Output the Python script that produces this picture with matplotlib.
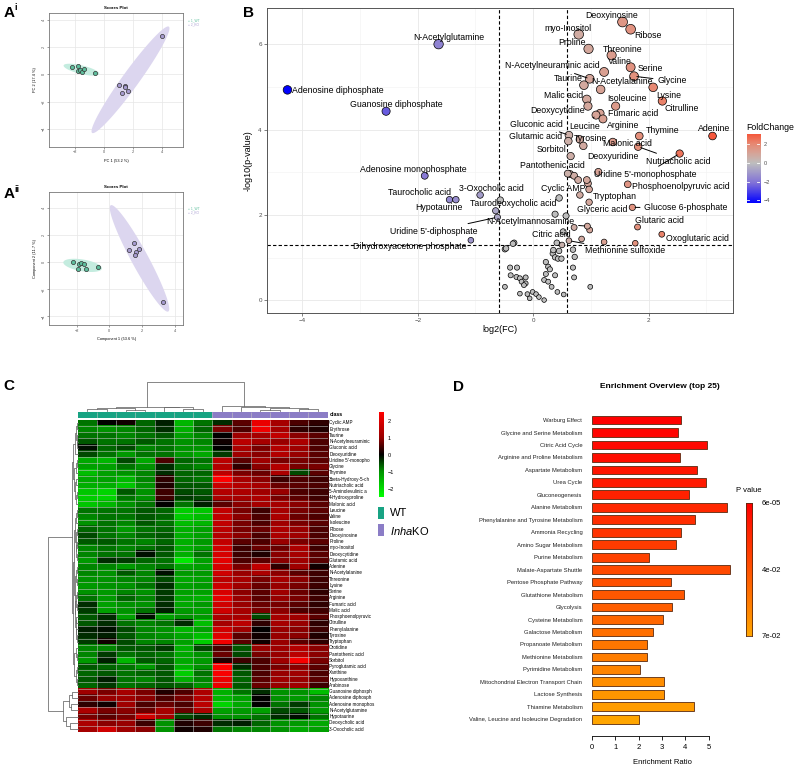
import numpy as np
import matplotlib
matplotlib.use('Agg')
import matplotlib.pyplot as plt
from matplotlib.colors import LinearSegmentedColormap, Normalize

plt.rcParams['font.family'] = ['Liberation Sans', 'DejaVu Sans']
plt.rcParams['mathtext.fontset'] = 'custom'
plt.rcParams['mathtext.it'] = 'Liberation Sans:italic'
plt.rcParams['mathtext.rm'] = 'Liberation Sans'

# ---------------- data ----------------
# A: score plots (PCA and PLS-DA)
pca_wt_x = [-2.20, -1.83, -1.83, -1.67, -1.51, -1.37, -0.60]
pca_wt_y = [0.51, 0.61, 0.26, 0.32, 0.17, 0.41, 0.12]
pca_ko_x = [1.06, 1.48, 1.48, 1.27, 1.67, 4.05]
pca_ko_y = [-0.81, -0.88, -0.96, -1.35, -1.25, 2.84]
pls_wt_x = [-2.20, -1.87, -1.73, -1.55, -1.92, -1.45, -0.69]
pls_wt_y = [0.04, -0.13, -0.07, -0.15, -0.47, -0.47, -0.33]
pls_ko_x = [1.53, 1.22, 1.63, 1.84, 1.57, 3.31]
pls_ko_y = [1.45, 0.91, 0.79, 1.01, 0.54, -2.94]

# B: volcano plot, labelled metabolites
volc_names = ['Adenosine diphosphate', 'N-Acetylglutamine', 'Guanosine diphosphate',
              'Adenosine monophosphate', 'Taurocholic acid', 'Hypotaurine', '3-Oxocholic acid',
              'Taurodeoxycholic acid', "Uridine 5'-diphosphate", 'Dihydroxyacetone phosphate',
              'N-Acetylmannosamine', 'Deoxyinosine', 'Ribose', 'myo-Inositol', 'Proline',
              'Threonine', 'Valine', 'N-Acetylneuraminic acid', 'Serine', 'Glycine', 'Taurine',
              'N-Acetylalanine', 'Lysine', 'Citrulline', 'Malic acid', 'Isoleucine',
              'Deoxycytidine', 'Fumaric acid', 'Leucine', 'Arginine', 'Gluconic acid', 'Thymine',
              'Adenine', 'Glutamic acid', 'Tyrosine', 'Malonic acid', 'Sorbitol', 'Deoxyuridine',
              'Nutriacholic acid', 'Pantothenic acid', "Uridine 5'-monophosphate", 'Cyclic AMP',
              'Phosphoenolpyruvic acid', 'Tryptophan', 'Glyceric acid', 'Glucose 6-phosphate',
              'Glutaric acid', 'Oxoglutaric acid', 'Citric acid', 'Methionine sulfoxide']
volc_fc = [-4.26, -1.64, -2.55, -1.88, -1.45, -1.34, -0.92, -0.65, -0.62, -1.08,
           0.94, 1.55, 1.69, 0.79, 0.96, 1.36, 1.23, 0.98, 1.69, 1.75, 0.88,
           1.17, 2.08, 2.24, 0.93, 1.43, 0.95, 1.16, 1.09, 1.21, 0.62, 1.84,
           3.11, 0.61, 0.81, 1.38, 0.65, 0.87, 1.82, 0.60, 2.54, 0.93,
           1.64, 0.97, 0.97, 1.72, 1.81, 2.23, 0.50, 0.62]
volc_p = [4.93, 6.00, 4.43, 2.92, 2.36, 2.36, 2.47, 2.10, 1.95, 1.41,
          1.74, 6.52, 6.35, 6.23, 5.89, 5.74, 5.35, 5.19, 5.46, 5.25, 5.04,
          4.94, 4.99, 4.67, 4.71, 4.55, 4.55, 4.38, 4.34, 4.25, 3.87, 3.85,
          3.85, 3.73, 3.77, 3.71, 3.38, 3.62, 3.60, 2.97, 3.44, 2.82,
          2.72, 2.60, 2.30, 2.18, 1.72, 1.55, 1.30, 1.40]
# unlabelled significant
sig_fc = [0.71, 0.98, 0.84, 1.23, 1.77, 0.64, 0.71, 0.78, 1.13, 0.95, 0.81]
sig_p = [1.71, 1.65, 1.44, 1.37, 1.34, 2.96, 2.92, 2.82, 3.01, 2.74, 2.47]
# not significant
ns_fc = [-0.57, 0.45, 0.38, 0.57, 0.52, 0.41, -0.33, -0.49, -0.40, -0.28, -0.39, -0.29,
         -0.23, -0.13, -0.20, -0.13, -0.16, -0.49, -0.23, -0.10, -0.01, 0.05, 0.10, 0.19,
         -0.06, 0.22, 0.34, 0.38, 0.43, 0.49, 0.26, 0.29, 0.38, 0.22, 0.19, 0.26, 0.32,
         0.42, 0.53, 0.69, 0.72, 0.69, 0.71, 0.99, 0.45, 0.35, -0.47, -0.35]
ns_p = [2.35, 2.40, 2.02, 1.98, 1.61, 1.35, 1.35, 1.20, 0.77, 0.77, 0.59, 0.55,
        0.52, 0.54, 0.44, 0.40, 0.36, 0.32, 0.16, 0.15, 0.20, 0.15, 0.08, 0.01,
        0.05, 0.90, 1.10, 1.01, 0.98, 0.98, 0.79, 0.73, 0.59, 0.62, 0.48, 0.44, 0.32,
        0.20, 0.14, 1.19, 1.02, 0.77, 0.54, 0.32, 1.16, 1.18, 1.22, 1.33]

# C: heatmap (z-scores), 7 WT + 6 KO samples
heat_rows = ['Cyclic AMP', 'Erythrose', 'Taurine', 'N-Acetylneuraminic', 'Gluconic acid',
             'Deoxyuridine', "Uridine 5'-monopho", 'Glycine', 'Thymine', '3beta-Hydroxy-5-ch',
             'Nutriacholic acid', '5-Aminolevulinic a', '4-Hydroxyproline', 'Malonic acid',
             'Leucine', 'Valine', 'Isoleucine', 'Ribose', 'Deoxyinosine', 'Proline',
             'myo-Inositol', 'Deoxycytidine', 'Glutamic acid', 'Adenine', 'N-Acetylalanine',
             'Threonine', 'Lysine', 'Serine', 'Arginine', 'Fumaric acid', 'Malic acid',
             'Phosphoenolpyruvic', 'Citrulline', 'Phenylalanine', 'Tyrosine', 'Tryptophan',
             'Orotidine', 'Pantothenic acid', 'Sorbitol', 'Pyroglutamic acid', 'Xanthine',
             'Hypoxanthine', 'Arabinose', 'Guanosine diphosph', 'Adenosine diphosph',
             'Adenosine monophos', 'N-Acetylglutamine', 'Hypotaurine', 'Deoxycholic acid',
             '3-Oxocholic acid']
heat_vals = [
    [-0.8, 0.0, 0.1, -0.7, -0.2, -1.5, -0.8, -0.3, 0.6, 2.2, 1.2, 0.5, 0.3],
    [-0.9, -1.0, -0.9, -0.7, -0.3, -1.4, -0.7, 0.8, 0.5, 2.3, 1.2, 0.3, 0.2],
    [-0.8, -0.8, -0.9, -0.8, -0.6, -1.2, -0.9, 0.0, 1.1, 1.2, 1.6, 0.9, 0.6],
    [-0.6, -0.8, -0.8, -0.6, -0.8, -1.0, -0.9, 0.1, 1.5, 1.2, 1.0, 1.3, 0.5],
    [-0.1, -0.7, -0.5, -0.9, -0.8, -1.0, -1.0, 0.0, 1.3, 0.8, 1.4, 1.1, 0.5],
    [-0.5, -0.8, -1.1, -0.8, -0.8, -1.1, -1.3, -0.4, 1.1, 0.9, 1.4, 1.0, 0.6],
    [-1.3, -1.5, -0.5, -1.3, 0.5, -0.7, -0.8, 1.5, 0.6, 1.1, 0.8, 0.8, 0.6],
    [-1.2, -1.2, -0.8, -1.0, -0.3, -0.8, -0.9, 1.4, 0.3, 0.9, 1.4, 0.8, 0.8],
    [-1.6, -1.2, -1.0, -0.9, -0.3, -0.7, -0.7, 1.5, 0.8, 0.7, 1.3, -0.5, 0.6],
    [-1.3, -1.2, -1.5, -0.9, 0.3, -0.7, -0.8, 2.5, 1.2, 0.9, 0.4, 0.5, 0.4],
    [-1.4, -1.4, -1.7, -1.0, 0.2, -0.6, -0.6, 1.7, 1.4, 1.2, 0.7, 0.6, 0.5],
    [-1.7, -1.9, -0.6, -1.0, 0.4, -0.5, -0.6, 1.4, 1.3, 1.1, 1.0, 0.5, 0.4],
    [-1.8, -1.9, -0.8, -1.0, 0.4, -0.4, -0.5, 1.3, 1.2, 1.3, 0.8, 0.6, 0.4],
    [-1.7, -1.5, -1.0, -0.8, 0.0, -0.8, -0.2, 0.6, 0.9, 1.2, 1.2, 0.9, 0.6],
    [-0.8, -0.8, -0.8, -0.6, -0.7, -1.8, -1.7, 1.6, 0.8, 0.4, 1.2, 0.8, 0.6],
    [-0.9, -0.8, -0.8, -0.6, -0.7, -1.8, -1.6, 1.6, 0.9, 0.5, 1.3, 0.7, 0.5],
    [-1.0, -0.8, -0.9, -0.6, -0.8, -1.6, -1.5, 1.6, 0.8, 0.5, 1.1, 0.8, 0.6],
    [-0.7, -0.8, -1.1, -0.8, -0.7, -1.4, -1.2, 1.5, 0.8, 0.7, 1.3, 1.0, 0.5],
    [-0.5, -0.8, -0.9, -0.7, -0.6, -1.4, -1.2, 1.4, 0.9, 0.5, 1.3, 1.1, 0.5],
    [-0.6, -0.6, -0.8, -0.9, -0.7, -1.4, -1.1, 1.6, 0.6, 0.5, 1.0, 0.8, 0.6],
    [-0.9, -0.8, -0.9, -0.8, -0.6, -1.4, -1.2, 1.8, 0.4, 0.7, 0.7, 1.3, 0.4],
    [-0.9, -0.8, -0.8, -0.1, -0.6, -1.4, -0.8, 1.9, 0.4, 0.2, 0.9, 1.2, 0.6],
    [-1.1, -0.3, -0.4, -0.7, -0.8, -2.2, -1.2, 2.1, 0.5, 0.6, 0.9, 1.1, 0.6],
    [-0.9, -0.9, -1.1, -0.9, -0.8, -1.3, -1.2, 1.9, 0.8, 1.6, 0.3, 1.1, 0.1],
    [-0.9, -1.0, -0.6, -0.9, -0.1, -1.1, -1.1, 1.8, 1.0, 1.3, 0.9, 0.6, 0.4],
    [-1.0, -1.0, -0.9, -0.9, -0.5, -1.3, -1.2, 1.5, 1.2, 0.8, 1.2, 0.9, 0.4],
    [-1.1, -1.0, -1.0, -0.8, -0.3, -1.2, -1.1, 1.7, 1.1, 0.7, 1.0, 0.8, 0.4],
    [-1.0, -1.1, -0.9, -1.0, -0.4, -1.2, -1.2, 1.9, 0.9, 0.6, 1.1, 0.7, 0.3],
    [-0.8, -1.1, -0.7, -0.9, -0.4, -1.3, -1.4, 2.1, 1.0, 0.6, 1.0, 0.8, 0.4],
    [-0.3, -1.2, -1.0, -1.0, -0.3, -1.3, -1.1, 1.8, 1.0, 0.7, 0.8, 0.6, 0.3],
    [-0.4, -1.2, -1.0, -0.8, -0.2, -1.1, -1.2, 1.8, 1.2, 0.8, 0.9, 0.5, 0.4],
    [-0.6, -0.3, -1.2, -0.1, -1.2, -1.0, -1.1, 1.3, 1.2, -0.5, 1.2, 1.1, 0.6],
    [-0.6, -0.3, -0.8, -0.9, -0.8, -0.3, -1.6, 1.2, 1.5, 0.3, 1.2, 1.0, 0.3],
    [-0.2, -0.1, -0.5, -0.9, -1.0, -1.5, -1.2, 1.8, 1.1, 0.0, 1.0, 0.9, 0.4],
    [-0.3, -0.2, -0.6, -0.9, -1.0, -1.3, -1.6, 2.0, 0.6, 0.1, 1.0, 0.9, 0.2],
    [-0.4, 0.1, -0.5, -0.9, -0.9, -1.2, -1.8, 2.3, 0.6, 0.1, 1.0, 0.6, 0.3],
    [-0.9, -0.9, -0.6, -0.6, -0.4, -1.4, -0.5, 0.5, -0.6, 1.0, 1.1, 1.4, 0.9],
    [-0.9, -0.4, -0.8, -0.7, -0.8, -1.3, -1.0, 0.7, -0.5, 0.8, 1.0, 1.5, 0.9],
    [-1.1, -0.2, -1.5, -0.6, -0.7, -1.3, -1.1, 0.2, 0.4, 0.5, 1.1, 2.4, 0.8],
    [-0.6, -0.7, -0.8, -1.1, -0.6, -1.4, -1.0, 2.5, -0.3, 0.5, 0.8, 0.9, 0.6],
    [-0.7, -0.6, -0.8, -0.7, -0.6, -1.8, -0.8, 2.4, -0.6, 0.5, 1.0, 1.1, 0.5],
    [-0.6, -0.2, -0.8, -0.9, -0.6, -1.4, -0.9, 2.2, -0.7, 0.6, 1.1, 1.0, 0.6],
    [-0.7, -0.4, -0.8, -0.7, -0.6, -0.7, -1.0, 2.2, -0.6, 0.7, 1.0, 1.1, 0.4],
    [1.1, 0.8, 1.2, 0.8, 0.2, 0.5, 1.3, -1.4, -0.8, -0.3, -1.0, -1.0, -1.6],
    [0.7, 1.0, 1.1, 0.9, 0.5, 0.8, 1.4, -1.5, -1.2, 0.0, -1.0, -1.1, -0.9],
    [0.3, 0.1, 1.1, 0.5, 0.7, 0.5, 1.5, -1.9, -1.3, 0.0, -0.8, -0.4, -1.0],
    [1.3, 0.8, 0.9, 0.7, 1.2, 0.7, 1.3, -1.2, -1.1, -1.2, -0.5, -0.6, -1.1],
    [0.8, 0.6, 0.8, 1.8, 1.2, -0.5, -0.3, -1.0, -1.0, -0.8, -0.3, -0.1, -0.8],
    [1.3, 0.9, 1.0, 0.4, -1.0, 0.2, 0.4, -0.3, -0.2, -0.7, -1.0, -1.1, -1.3],
    [1.2, 1.8, 1.1, 0.9, -1.0, 0.1, 0.2, -0.8, -0.9, -0.9, -1.0, -1.3, -1.2],
]
sample_class = ['WT'] * 7 + ['KO'] * 6
# dendrogram trees: [height, left, right], leaves are indices
col_tree = [1.0,
            [0.15, [0.10, [0.06, 0, 1], [0.05, 2, 3]], [0.12, 4, [0.07, 5, 6]]],
            [0.17, 7, [0.12, 8, [0.09, [0.05, 9, 10], [0.06, 11, 12]]]]]
row_tree = [1.0,
            [0.20,
             [0.16,
              [0.10, [0.06, [0.03, 0, 1], [0.04, 2, [0.02, 3, 4]]], 5],
              [0.12, [0.07, [0.04, 6, 7], 8], [0.08, [0.05, 9, 10], [0.05, [0.03, 11, 12], 13]]]],
             [0.17,
              [0.14,
               [0.09, [0.05, [0.02, 14, 15], 16], [0.06, [0.04, 17, 18], [0.05, [0.03, 19, 20], [0.04, 21, 22]]]],
               [0.10, [0.06, [0.04, 23, 24], [0.035, 25, 26]],
                [0.08, [0.05, [0.03, 27, 28], [0.03, 29, 30]], [0.07, [0.05, 31, 32], [0.045, 33, [0.03, 34, 35]]]]]],
              [0.11, [0.06, 36, [0.04, 37, 38]], [0.07, [0.04, 39, 40], [0.035, 41, 42]]]]],
            [0.49, [0.30, [0.20, 43, 44], [0.22, 45, 46]], [0.40, 47, [0.25, 48, 49]]]]

# D: enrichment overview
pathways = ['Warburg Effect', 'Glycine and Serine Metabolism', 'Citric Acid Cycle',
            'Arginine and Proline Metabolism', 'Aspartate Metabolism', 'Urea Cycle',
            'Gluconeogenesis', 'Alanine Metabolism', 'Phenylalanine and Tyrosine Metabolism',
            'Ammonia Recycling', 'Amino Sugar Metabolism', 'Purine Metabolism',
            'Malate-Aspartate Shuttle', 'Pentose Phosphate Pathway', 'Glutathione Metabolism',
            'Glycolysis', 'Cysteine Metabolism', 'Galactose Metabolism', 'Propanoate Metabolism',
            'Methionine Metabolism', 'Pyrimidine Metabolism',
            'Mitochondrial Electron Transport Chain', 'Lactose Synthesis', 'Thiamine Metabolism',
            'Valine, Leucine and Isoleucine Degradation']
enrich_ratio = [3.80, 3.67, 4.91, 3.79, 4.50, 4.89, 4.17, 5.79, 4.40, 3.80, 3.59, 2.43, 5.90,
                3.39, 3.93, 3.43, 3.03, 2.60, 2.34, 2.34, 2.07, 3.10, 3.10, 4.37, 2.01]
enrich_p = [6e-05, 0.002, 0.004, 0.006, 0.009, 0.011, 0.014, 0.017, 0.019, 0.022, 0.025, 0.028,
            0.031, 0.034, 0.037, 0.040, 0.043, 0.047, 0.050, 0.053, 0.056, 0.060, 0.063, 0.066,
            0.070]

# ---------------- layout helpers ----------------
W, H = 797, 774
fig = plt.figure(figsize=(W / 100, H / 100), dpi=100)


def px_axes(l, t, r, b):
    return fig.add_axes([l / W, 1 - b / H, (r - l) / W, (b - t) / H])


def ftext(x, y, s, **kw):
    return fig.text(x / W, 1 - y / H, s, **kw)


def conf_ellipse(ax, xs, ys, color):
    pts = np.column_stack([xs, ys])
    c = pts.mean(axis=0)
    vals, vecs = np.linalg.eigh(np.cov(pts.T))
    t = np.linspace(0, 2 * np.pi, 200)
    r = np.sqrt(5.991)
    circ = np.column_stack([np.cos(t), np.sin(t)]) * np.sqrt(vals) * r
    e = circ @ vecs.T + c
    ax.fill(e[:, 0], e[:, 1], color=color, lw=0, zorder=1)


# ---------------- panel A ----------------
def score_plot(box, wx, wy, kx, ky, xlim, ylim, xlab, ylab, xt, yt):
    ax = px_axes(*box)
    conf_ellipse(ax, wx, wy, '#c4ecdf')
    conf_ellipse(ax, kx, ky, '#dcd6ef')
    ax.scatter(wx, wy, s=9, facecolor='#5ebf9d', edgecolor='#333333', lw=0.5, zorder=3)
    ax.scatter(kx, ky, s=9, facecolor='#a79bd0', edgecolor='#333333', lw=0.5, zorder=3)
    ax.set_xlim(*xlim)
    ax.set_ylim(*ylim)
    ax.set_xticks(xt)
    ax.set_yticks(yt)
    ax.grid(color='#e6e6e6', lw=0.5)
    ax.set_axisbelow(True)
    ax.tick_params(labelsize=2.8, length=1.2, width=0.4, pad=1.5, colors='#555555')
    plt.setp(ax.get_yticklabels(), rotation=90, va='center')
    for sp in ax.spines.values():
        sp.set_color('#777777')
        sp.set_linewidth(0.6)
    ax.set_xlabel(xlab, fontsize=2.8, labelpad=3)
    ax.set_ylabel(ylab, fontsize=2.8, labelpad=3)
    ax.set_title('Scores Plot', fontsize=3.2, fontweight='bold', pad=3)
    return ax


axA1 = score_plot((49.3, 12.7, 183.3, 146.7), pca_wt_x, pca_wt_y, pca_ko_x, pca_ko_y,
                  (-3.8, 5.5), (-5.32, 4.53), 'PC 1 (53.2 %)', 'PC 2 (17.4 %)',
                  [-2, 0, 2, 4], [-4, -2, 0, 2, 4])
axA2 = score_plot((49.3, 191.7, 183.3, 325), pls_wt_x, pls_wt_y, pls_ko_x, pls_ko_y,
                  (-3.67, 4.53), (-4.64, 5.23), 'Component 1 (53.6 %)', 'Component 2 (11.7 %)',
                  [-2, 0, 2, 4], [-4, -2, 0, 2, 4])
for ty in (20, 208):
    ftext(188, ty, '\u25cb 1_WT', fontsize=2.3, color='#5ebf9d', va='center')
    ftext(188, ty + 4, '\u25cb 2_KO', fontsize=2.3, color='#a79bd0', va='center')

# ---------------- panel B ----------------
axB = px_axes(266.7, 8.3, 733.3, 313.3)
fc_cmap = LinearSegmentedColormap.from_list(
    'fc', [(0, '#0000ff'), (0.25, '#8070d8'), (0.5, '#bebebe'), (0.625, '#d6a498'),
           (0.75, '#e8866f'), (0.86, '#f5593d'), (1.0, '#ff0000')])
fc_norm = Normalize(-4.3, 4.3)


def psize(p):
    return (3.3 + 0.58 * np.asarray(p)) ** 2


axB.scatter(ns_fc, ns_p, s=psize(ns_p), c='#bebebe', edgecolor='black', lw=0.5, zorder=3)
axB.scatter(sig_fc, sig_p, s=psize(sig_p), c=sig_fc, cmap=fc_cmap, norm=fc_norm,
            edgecolor='black', lw=0.5, zorder=3)
axB.scatter(volc_fc, volc_p, s=psize(volc_p), c=volc_fc, cmap=fc_cmap, norm=fc_norm,
            edgecolor='black', lw=0.5, zorder=4)

# label offsets in pixels (right, down); True = draw segment
lab_off = {
    'Adenosine diphosphate': (50.2, 0.3, False), 'N-Acetylglutamine': (10.6, -7, False),
    'Guanosine diphosphate': (10.3, -6.7, False), 'Adenosine monophosphate': (-11, -6.7, False),
    'Taurocholic acid': (-29.7, -7, False), 'Hypotaurine': (-16.5, 7.6, False),
    '3-Oxocholic acid': (10.8, -6.7, False), 'Taurodeoxycholic acid': (17.3, -7.4, False),
    "Uridine 5'-diphosphate": (-64, 14, True), 'Dihydroxyacetone phosphate': (-61, 6.7, False),
    'N-Acetylmannosamine': (-57, -4.3, True), 'Deoxyinosine': (-11, -6.7, False),
    'Ribose': (17, 6.4, False), 'myo-Inositol': (-10.4, -6, False), 'Proline': (-17, -6, False),
    'Threonine': (11.3, -6, False), 'Valine': (15.7, -10.3, False),
    'N-Acetylneuraminic acid': (-37.5, -13, True), 'Serine': (19.5, 1, False),
    'Glycine': (37.7, 4.7, True), 'Taurine': (-15.7, -7, False),
    'N-Acetylalanine': (21, -7.6, False), 'Lysine': (15.7, 7.7, False),
    'Citrulline': (19.4, 8, False), 'Malic acid': (-23.4, -3.6, False),
    'Isoleucine': (11, -7.3, False), 'Deoxycytidine': (-30.8, 4.7, False),
    'Fumaric acid': (33, 0, False), 'Leucine': (-11, 11, True), 'Arginine': (20.2, 7, False),
    'Gluconic acid': (-32.3, -11, True), 'Thymine': (23.7, -5.3, False),
    'Adenine': (1.8, -7.7, False), 'Glutamic acid': (-32.3, -4.3, False),
    'Tyrosine': (10.5, -1, False), 'Malonic acid': (14.3, 1.6, False),
    'Sorbitol': (-19, -6.7, False), 'Deoxyuridine': (30, 10.3, False),
    'Nutriacholic acid': (40, 14.3, True), 'Pantothenic acid': (-15.8, -8.3, False),
    "Uridine 5'-monophosphate": (-34.3, 20.7, True), 'Cyclic AMP': (-24, 8.3, False),
    'Phosphoenolpyruvic acid': (53.5, 2.7, False), 'Tryptophan': (26, 6.7, False),
    'Glyceric acid': (13.5, 7.7, False), 'Glucose 6-phosphate': (53.5, 0.4, True),
    'Glutaric acid': (21.5, -6.7, False), 'Oxoglutaric acid': (35.8, 4, False),
    'Citric acid': (-11, -10.7, True), 'Methionine sulfoxide': (55.7, 10.3, True),
}
for name, x, y in zip(volc_names, volc_fc, volc_p):
    dx, dy, seg = lab_off[name]
    kw = {}
    if seg:
        kw['arrowprops'] = dict(arrowstyle='-', lw=0.7, color='black', shrinkA=1, shrinkB=2)
    axB.annotate(name, (x, y), xytext=(dx * 0.72, -dy * 0.72), textcoords='offset points',
                 ha='center', va='center', fontsize=6.3, zorder=5, **kw)

for v in (-0.585, 0.585):
    axB.axvline(v, color='black', ls=(0, (3, 2)), lw=0.8, zorder=2)
axB.axhline(1.301, color='black', ls=(0, (3, 2)), lw=0.8, zorder=2)
axB.set_xlim(-4.62, 3.47)
axB.set_ylim(-0.30, 6.84)
axB.set_xticks([-4, -2, 0, 2])
axB.set_xticks([-3, -1, 1, 3], minor=True)
axB.set_yticks([0, 2, 4, 6])
axB.set_yticks([1, 3, 5], minor=True)
axB.grid(which='major', color='#e8e8e8', lw=0.6)
axB.grid(which='minor', color='#f2f2f2', lw=0.4)
axB.set_axisbelow(True)
axB.tick_params(which='both', labelsize=4.5, length=2, width=0.5, colors='#4d4d4d', pad=1.5)
axB.tick_params(which='minor', length=0)
for sp in axB.spines.values():
    sp.set_color('#555555')
    sp.set_linewidth(0.7)
axB.set_xlabel('log2(FC)', fontsize=6.5, labelpad=1)
axB.set_ylabel('-log10(p-value)', fontsize=6.5, labelpad=4)

cbB = px_axes(746.7, 134, 760, 202.7)
grad = np.linspace(3.11, -4.26, 200).reshape(-1, 1)
cbB.imshow(grad, cmap=fc_cmap, norm=fc_norm, aspect='auto', extent=[0, 1, -4.26, 3.11])
cbB.set_xticks([])
cbB.yaxis.tick_right()
cbB.set_yticks([-4, -2, 0, 2])
cbB.tick_params(labelsize=4, length=0, pad=3, colors='#4d4d4d')
for v in (-4, -2, 0, 2):
    cbB.plot([0, 0.2], [v, v], color='white', lw=0.6)
    cbB.plot([0.8, 1], [v, v], color='white', lw=0.6)
cbB.set_xlim(0, 1)
for sp in cbB.spines.values():
    sp.set_visible(False)
ftext(746.7, 127, 'FoldChange', fontsize=6.3, va='center', ha='left')

# ---------------- panel C ----------------
heat = np.array(heat_vals)
n_rows, n_cols = heat.shape
hm_cmap = LinearSegmentedColormap.from_list(
    'gbr', [(0, '#00ff00'), (0.3, '#009200'), (0.5, '#000000'), (0.7, '#980000'),
            (1, '#ff0000')])
axC = px_axes(77.7, 419.7, 327.7, 732.3)
axC.imshow(heat, cmap=hm_cmap, vmin=-2.5, vmax=2.5, aspect='auto', interpolation='nearest',
           extent=[0, n_cols, n_rows, 0])
axC.hlines(np.arange(1, n_rows), 0, n_cols, color='#c4c4c4', lw=0.4)
axC.vlines(np.arange(1, n_cols), 0, n_rows, color='#c4c4c4', lw=0.4)
axC.set_xlim(0, n_cols)
axC.set_ylim(n_rows, 0)
axC.axis('off')
for i, name in enumerate(heat_rows):
    axC.text(n_cols + 0.08, i + 0.5, name, fontsize=3.3, va='center', ha='left')

class_colors = {'WT': '#18a383', 'KO': '#8b7dc6'}
axCls = px_axes(77.7, 412.3, 327.7, 417.7)
for j, cl in enumerate(sample_class):
    axCls.bar(j + 0.5, 1, width=1, color=class_colors[cl], lw=0)
axCls.vlines(np.arange(1, n_cols), 0, 1, color='#c4c4c4', lw=0.4)
axCls.set_xlim(0, n_cols)
axCls.set_ylim(0, 1)
axCls.axis('off')
ftext(329.5, 415, 'class', fontsize=3.8, fontweight='bold', va='center')


def draw_tree(ax, node, vertical):
    if isinstance(node, int):
        return node + 0.5, 0.0
    h, a, b = node
    pa, ha = draw_tree(ax, a, vertical)
    pb, hb = draw_tree(ax, b, vertical)
    if vertical:
        ax.plot([pa, pa, pb, pb], [ha, h, h, hb], color='#666666', lw=0.55, clip_on=False)
    else:
        ax.plot([ha, h, h, hb], [pa, pa, pb, pb], color='#666666', lw=0.55, clip_on=False)
    return (pa + pb) / 2, h


axDc = px_axes(77.7, 381.7, 327.7, 411)
draw_tree(axDc, col_tree, True)
axDc.set_xlim(0, n_cols)
axDc.set_ylim(0, 1)
axDc.axis('off')

axDr = px_axes(48.3, 419.7, 77.7, 732.3)
draw_tree(axDr, row_tree, False)
axDr.set_xlim(1, 0)
axDr.set_ylim(n_rows, 0)
axDr.axis('off')

cbC = px_axes(379, 412.3, 384, 497.3)
cbC.imshow(np.linspace(2.5, -2.5, 200).reshape(-1, 1), cmap=hm_cmap, vmin=-2.5, vmax=2.5,
           aspect='auto', extent=[0, 1, -2.5, 2.5])
cbC.set_xticks([])
cbC.yaxis.tick_right()
cbC.set_yticks([-2, -1, 0, 1, 2])
cbC.tick_params(labelsize=4, length=0, pad=2.5)
for sp in cbC.spines.values():
    sp.set_visible(False)

for cl, top, lab in (('WT', 506.7, 'WT'), ('KO', 524.3, r'$\it{Inha}$KO')):
    axL = px_axes(378, top, 384, top + 12)
    axL.set_facecolor(class_colors[cl])
    axL.set_xticks([])
    axL.set_yticks([])
    for sp in axL.spines.values():
        sp.set_visible(False)
    ftext(390, top + 6.5, lab, fontsize=8, va='center', ha='left')

# ---------------- panel D ----------------
axD = px_axes(592, 413.8, 732, 725.5)
p_cmap = LinearSegmentedColormap.from_list('pv', ['#ff0000', '#ffa500'])
p_norm = Normalize(6e-05, 0.07)
ypos = np.arange(len(pathways))
axD.barh(ypos, enrich_ratio, height=0.7, color=p_cmap(p_norm(enrich_p)),
         edgecolor='#5a2a10', lw=0.6)
axD.set_xlim(0, 6)
axD.set_ylim(len(pathways) - 0.5, -0.5)
axD.set_yticks(ypos)
axD.set_yticklabels(pathways, fontsize=4.2, color='#222222')
axD.tick_params(axis='y', length=0, pad=7)
for s in ('top', 'right', 'left'):
    axD.spines[s].set_visible(False)
axD.spines['bottom'].set_bounds(0, 5)
axD.spines['bottom'].set_position(('outward', 7.6))
axD.spines['bottom'].set_linewidth(0.6)
axD.set_xticks([0, 1, 2, 3, 4, 5])
axD.tick_params(axis='x', labelsize=5.5, length=2.8, width=0.6, pad=3)
axD.set_xlabel('Enrichment Ratio', fontsize=5.5, labelpad=6)
ftext(660, 386, 'Enrichment Overview (top 25)', fontsize=6, fontweight='bold',
      ha='center', va='center')

cbD = px_axes(745.7, 503.3, 752.3, 636)
cbD.imshow(np.linspace(6e-05, 0.07, 200).reshape(-1, 1), cmap=p_cmap, norm=p_norm,
           aspect='auto', extent=[0, 1, 0.07, 6e-05])
cbD.set_xticks([])
cbD.set_yticks([])
for sp in cbD.spines.values():
    sp.set_color('#5a2a10')
    sp.set_linewidth(0.6)
ftext(748.8, 490.7, 'P value', fontsize=5.5, ha='center', va='center')
for lab, yy in (('6e-05', 503.3), ('4e-02', 570), ('7e-02', 636)):
    ftext(761.7, yy, lab, fontsize=5.5, va='center', ha='left')

# ---------------- panel letters ----------------
ftext(3.5, 17, 'A', fontsize=11, fontweight='bold', va='baseline')
ftext(14.5, 10.5, 'i', fontsize=6.5, fontweight='bold', va='baseline')
ftext(3.5, 198.5, 'A', fontsize=11, fontweight='bold', va='baseline')
ftext(14.5, 192, 'ii', fontsize=6.5, fontweight='bold', va='baseline')
ftext(243, 17, 'B', fontsize=11, fontweight='bold', va='baseline')
ftext(3, 390, 'C', fontsize=11, fontweight='bold', va='baseline')
ftext(453, 391, 'D', fontsize=11, fontweight='bold', va='baseline')

fig.savefig('out.png', dpi=100)
